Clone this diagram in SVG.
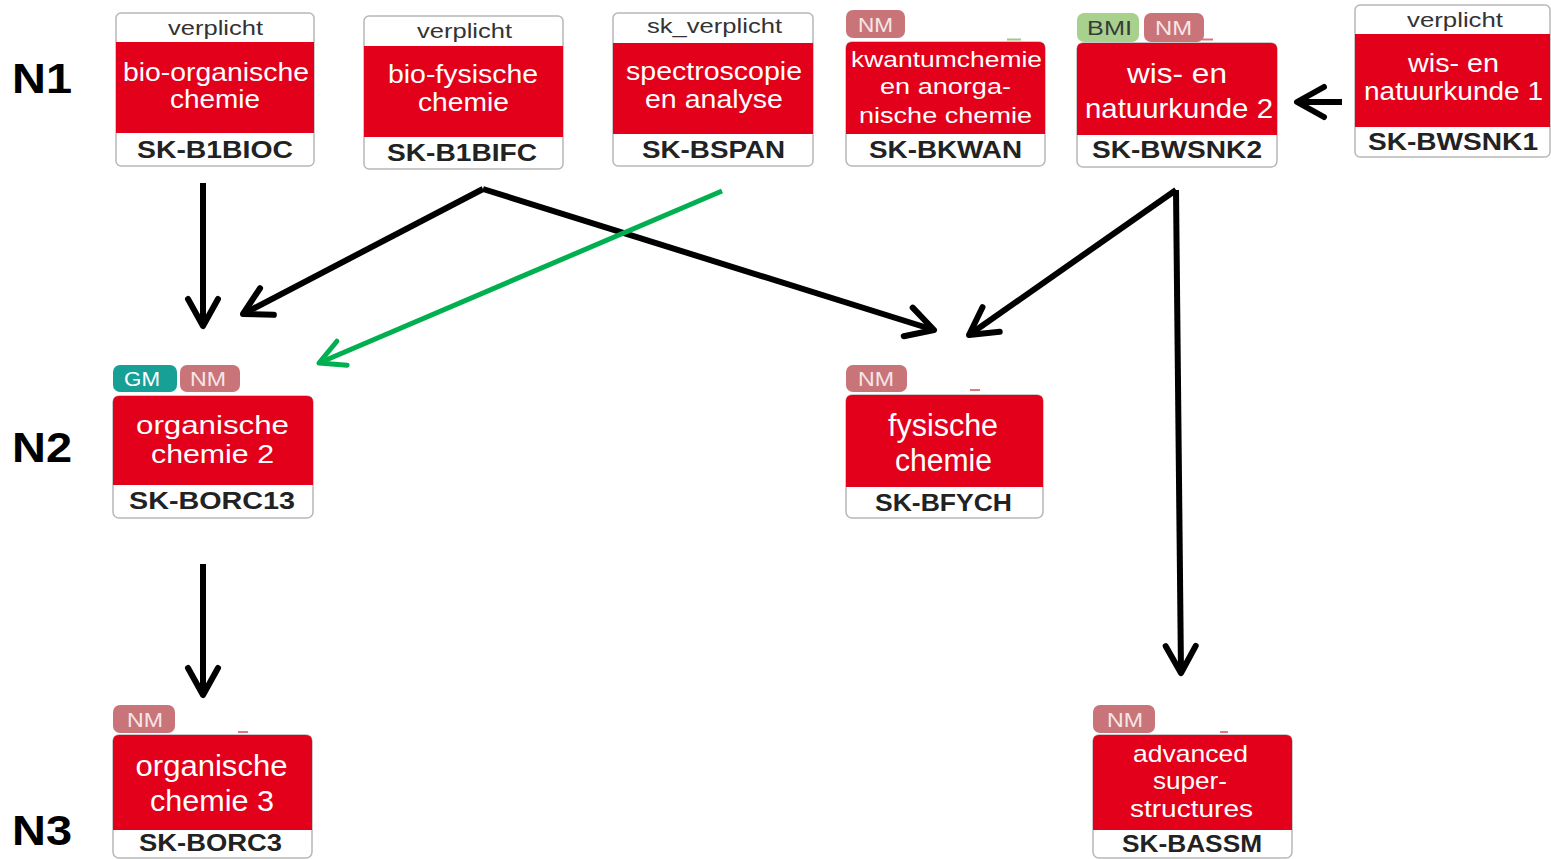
<svg xmlns="http://www.w3.org/2000/svg" width="1551" height="859" viewBox="0 0 1551 859">
  <defs>
    <style>
      .box { fill: #ffffff; stroke: #b8b8b8; stroke-width: 1.5; }
      .red { fill: #e2001a; }
      .hdr { font-family: "Liberation Sans", Arial, sans-serif; font-size: 21px; fill: #333333; text-anchor: middle; }
      .ttl { font-family: "Liberation Sans", Arial, sans-serif; font-size: 25px; fill: #ffffff; text-anchor: middle; }
      .code { font-family: "Liberation Sans", Arial, sans-serif; font-size: 23px; font-weight: bold; fill: #222222; text-anchor: middle; }
      .tag { font-family: "Liberation Sans", Arial, sans-serif; font-size: 20px; text-anchor: middle; }
      .nm { fill: #c97479; }
      .nmt { fill: #f6e6e6; }
      .lvl { font-family: "Liberation Sans", Arial, sans-serif; font-size: 43px; font-weight: bold; fill: #000000; }
      .edge { fill: none; stroke: #000000; stroke-width: 6; }
      .edge-green { fill: none; stroke: #00b050; stroke-width: 5; }
    </style>
    <marker id="head" markerUnits="userSpaceOnUse" viewBox="-40 -20 50 40" markerWidth="50" markerHeight="40" refX="0" refY="0" orient="auto" overflow="visible">
      <path d="M-27,-15 L0,0 L-27,15" fill="none" stroke="#000000" stroke-width="6" stroke-linecap="round" stroke-linejoin="round"/>
    </marker>
    <marker id="head-green" markerUnits="userSpaceOnUse" viewBox="-40 -20 50 40" markerWidth="50" markerHeight="40" refX="0" refY="0" orient="auto" overflow="visible">
      <path d="M-25,-13 L0,0 L-25,13" fill="none" stroke="#00b050" stroke-width="5" stroke-linecap="round" stroke-linejoin="round"/>
    </marker>
  </defs>

  <rect width="1551" height="859" fill="#ffffff"/>

  <!-- level labels -->
  <g id="levels">
    <text class="lvl" x="12" y="93" textLength="60" lengthAdjust="spacingAndGlyphs">N1</text>
    <text class="lvl" x="12" y="462" textLength="60" lengthAdjust="spacingAndGlyphs">N2</text>
    <text class="lvl" x="12" y="845" textLength="60" lengthAdjust="spacingAndGlyphs">N3</text>
  </g>

  <!-- connectors -->
  <g id="connectors">
    <path class="edge" d="M203,183 L203,326" marker-end="url(#head)"/>
    <path class="edge" d="M483,189 L243,314" marker-end="url(#head)"/>
    <path class="edge" d="M483,189 L934,330" marker-end="url(#head)"/>
    <path class="edge-green" d="M722,191 L319,363" marker-end="url(#head-green)"/>
    <path class="edge" d="M1176,190 L969,335" marker-end="url(#head)"/>
    <path class="edge" d="M1176,190 L1181,673" marker-end="url(#head)"/>
    <path class="edge" d="M1342,102 L1297,102" marker-end="url(#head)"/>
    <path class="edge" d="M203,564 L203,695" marker-end="url(#head)"/>
  </g>

  <!-- SK-B1BIOC -->
  <g id="SK-B1BIOC">
    <rect class="box" x="116" y="13" width="198" height="153" rx="5"/>
    <rect class="red" x="116" y="42" width="198" height="91"/>
    <text class="hdr" x="215.5" y="35" textLength="95" lengthAdjust="spacingAndGlyphs">verplicht</text>
    <text class="ttl" x="216" y="81" textLength="186" lengthAdjust="spacingAndGlyphs">bio-organische</text>
    <text class="ttl" x="215" y="108" textLength="90" lengthAdjust="spacingAndGlyphs">chemie</text>
    <text class="code" x="215" y="158" textLength="156" lengthAdjust="spacingAndGlyphs">SK-B1BIOC</text>
  </g>

  <!-- SK-B1BIFC -->
  <g id="SK-B1BIFC">
    <rect class="box" x="364" y="16" width="199" height="153" rx="5"/>
    <rect class="red" x="364" y="46" width="199" height="91"/>
    <text class="hdr" x="464.5" y="38" textLength="95" lengthAdjust="spacingAndGlyphs">verplicht</text>
    <text class="ttl" x="463" y="83" textLength="150" lengthAdjust="spacingAndGlyphs">bio-fysische</text>
    <text class="ttl" x="463.5" y="111" textLength="91" lengthAdjust="spacingAndGlyphs">chemie</text>
    <text class="code" x="462" y="161" textLength="150" lengthAdjust="spacingAndGlyphs">SK-B1BIFC</text>
  </g>

  <!-- SK-BSPAN -->
  <g id="SK-BSPAN">
    <rect class="box" x="613" y="13" width="200" height="153" rx="5"/>
    <rect class="red" x="613" y="43" width="200" height="91"/>
    <text class="hdr" x="714.5" y="33" textLength="135" lengthAdjust="spacingAndGlyphs">sk_verplicht</text>
    <text class="ttl" x="714" y="80" textLength="176" lengthAdjust="spacingAndGlyphs">spectroscopie</text>
    <text class="ttl" x="714" y="108" textLength="138" lengthAdjust="spacingAndGlyphs">en analyse</text>
    <text class="code" x="713.5" y="158" textLength="143" lengthAdjust="spacingAndGlyphs">SK-BSPAN</text>
  </g>

  <!-- SK-BKWAN -->
  <g id="SK-BKWAN">
    <rect class="nm" x="846" y="10" width="59" height="28" rx="7"/>
    <text class="tag nmt" x="875.5" y="32" textLength="35" lengthAdjust="spacingAndGlyphs">NM</text>
    <line x1="1007" y1="39.5" x2="1021" y2="39.5" stroke="#9ccb7f" stroke-width="2"/>
    <rect class="box" x="846" y="42" width="199" height="124" rx="6"/>
    <path class="red" d="M846,134 L846,48 Q846,42 852,42 L1039,42 Q1045,42 1045,48 L1045,134 Z"/>
    <text class="ttl" x="946.5" y="67" style="font-size:22px" textLength="191" lengthAdjust="spacingAndGlyphs">kwantumchemie</text>
    <text class="ttl" x="945.5" y="94" style="font-size:22px" textLength="131" lengthAdjust="spacingAndGlyphs">en anorga-</text>
    <text class="ttl" x="945.5" y="123" style="font-size:22px" textLength="173" lengthAdjust="spacingAndGlyphs">nische chemie</text>
    <text class="code" x="945.5" y="158" textLength="153" lengthAdjust="spacingAndGlyphs">SK-BKWAN</text>
  </g>

  <!-- SK-BWSNK2 -->
  <g id="SK-BWSNK2">
    <rect x="1077" y="13" width="62" height="29" rx="7" fill="#a9d18e"/>
    <text class="tag" x="1109.5" y="35" fill="#3a3a3a" textLength="45" lengthAdjust="spacingAndGlyphs">BMI</text>
    <rect class="nm" x="1144" y="13" width="60" height="29" rx="7"/>
    <text class="tag nmt" x="1173.5" y="35" textLength="37" lengthAdjust="spacingAndGlyphs">NM</text>
    <line x1="1202" y1="39.5" x2="1213" y2="39.5" stroke="#d07a80" stroke-width="2"/>
    <rect class="box" x="1077" y="43" width="200" height="124" rx="6"/>
    <path class="red" d="M1077,135 L1077,49 Q1077,43 1083,43 L1271,43 Q1277,43 1277,49 L1277,135 Z"/>
    <text class="ttl" x="1177" y="83" style="font-size:28px" textLength="100" lengthAdjust="spacingAndGlyphs">wis- en</text>
    <text class="ttl" x="1179" y="118" style="font-size:28px" textLength="188" lengthAdjust="spacingAndGlyphs">natuurkunde 2</text>
    <text class="code" x="1177" y="158" textLength="170" lengthAdjust="spacingAndGlyphs">SK-BWSNK2</text>
  </g>

  <!-- SK-BWSNK1 -->
  <g id="SK-BWSNK1">
    <rect class="box" x="1355" y="5" width="195" height="152" rx="5"/>
    <rect class="red" x="1355" y="34" width="195" height="93"/>
    <text class="hdr" x="1455" y="27" textLength="96" lengthAdjust="spacingAndGlyphs">verplicht</text>
    <text class="ttl" x="1453.5" y="72" textLength="91" lengthAdjust="spacingAndGlyphs">wis- en</text>
    <text class="ttl" x="1453.5" y="100" textLength="179" lengthAdjust="spacingAndGlyphs">natuurkunde 1</text>
    <text class="code" x="1453" y="150" textLength="170" lengthAdjust="spacingAndGlyphs">SK-BWSNK1</text>
  </g>

  <!-- SK-BORC13 -->
  <g id="SK-BORC13">
    <rect x="113" y="365" width="64" height="27" rx="7" fill="#16a096"/>
    <text class="tag" x="142" y="386" fill="#ffffff" textLength="36" lengthAdjust="spacingAndGlyphs">GM</text>
    <rect class="nm" x="180" y="365" width="60" height="27" rx="7"/>
    <text class="tag nmt" x="208" y="386" textLength="36" lengthAdjust="spacingAndGlyphs">NM</text>
    <rect class="box" x="113" y="396" width="200" height="122" rx="6"/>
    <path class="red" d="M113,485 L113,402 Q113,396 119,396 L307,396 Q313,396 313,402 L313,485 Z"/>
    <text class="ttl" x="212.5" y="434" style="font-size:26px" textLength="153" lengthAdjust="spacingAndGlyphs">organische</text>
    <text class="ttl" x="212.5" y="463" style="font-size:26px" textLength="123" lengthAdjust="spacingAndGlyphs">chemie 2</text>
    <text class="code" x="212" y="509" textLength="166" lengthAdjust="spacingAndGlyphs">SK-BORC13</text>
  </g>

  <!-- SK-BFYCH -->
  <g id="SK-BFYCH">
    <rect class="nm" x="846" y="365" width="61" height="27" rx="7"/>
    <text class="tag nmt" x="876" y="386" textLength="36" lengthAdjust="spacingAndGlyphs">NM</text>
    <line x1="970" y1="390" x2="980" y2="390" stroke="#e07a80" stroke-width="2"/>
    <rect class="box" x="846" y="395" width="197" height="123" rx="6"/>
    <path class="red" d="M846,487 L846,401 Q846,395 852,395 L1037,395 Q1043,395 1043,401 L1043,487 Z"/>
    <text class="ttl" x="943" y="436" style="font-size:31px" textLength="110" lengthAdjust="spacingAndGlyphs">fysische</text>
    <text class="ttl" x="943.5" y="471" style="font-size:31px" textLength="97" lengthAdjust="spacingAndGlyphs">chemie</text>
    <text class="code" x="943.5" y="511" textLength="137" lengthAdjust="spacingAndGlyphs">SK-BFYCH</text>
  </g>

  <!-- SK-BORC3 -->
  <g id="SK-BORC3">
    <rect class="nm" x="113" y="705" width="62" height="28" rx="7"/>
    <text class="tag nmt" x="145" y="727" textLength="36" lengthAdjust="spacingAndGlyphs">NM</text>
    <line x1="238" y1="732" x2="248" y2="732" stroke="#e07a80" stroke-width="2"/>
    <rect class="box" x="113" y="735" width="199" height="123" rx="6"/>
    <path class="red" d="M113,830 L113,741 Q113,735 119,735 L306,735 Q312,735 312,741 L312,830 Z"/>
    <text class="ttl" x="211.5" y="776" style="font-size:29px" textLength="152" lengthAdjust="spacingAndGlyphs">organische</text>
    <text class="ttl" x="212" y="811" style="font-size:29px" textLength="124" lengthAdjust="spacingAndGlyphs">chemie 3</text>
    <text class="code" x="210.5" y="851" textLength="143" lengthAdjust="spacingAndGlyphs">SK-BORC3</text>
  </g>

  <!-- SK-BASSM -->
  <g id="SK-BASSM">
    <rect class="nm" x="1093" y="705" width="62" height="28" rx="7"/>
    <text class="tag nmt" x="1125" y="727" textLength="36" lengthAdjust="spacingAndGlyphs">NM</text>
    <line x1="1220" y1="732" x2="1228" y2="732" stroke="#e07a80" stroke-width="2"/>
    <rect class="box" x="1093" y="735" width="199" height="123" rx="6"/>
    <path class="red" d="M1093,830 L1093,741 Q1093,735 1099,735 L1286,735 Q1292,735 1292,741 L1292,830 Z"/>
    <text class="ttl" x="1190.5" y="762" style="font-size:24px" textLength="115" lengthAdjust="spacingAndGlyphs">advanced</text>
    <text class="ttl" x="1190" y="789" style="font-size:24px" textLength="74" lengthAdjust="spacingAndGlyphs">super-</text>
    <text class="ttl" x="1191.5" y="817" style="font-size:24px" textLength="123" lengthAdjust="spacingAndGlyphs">structures</text>
    <text class="code" x="1192" y="852" textLength="140" lengthAdjust="spacingAndGlyphs">SK-BASSM</text>
  </g>
</svg>
